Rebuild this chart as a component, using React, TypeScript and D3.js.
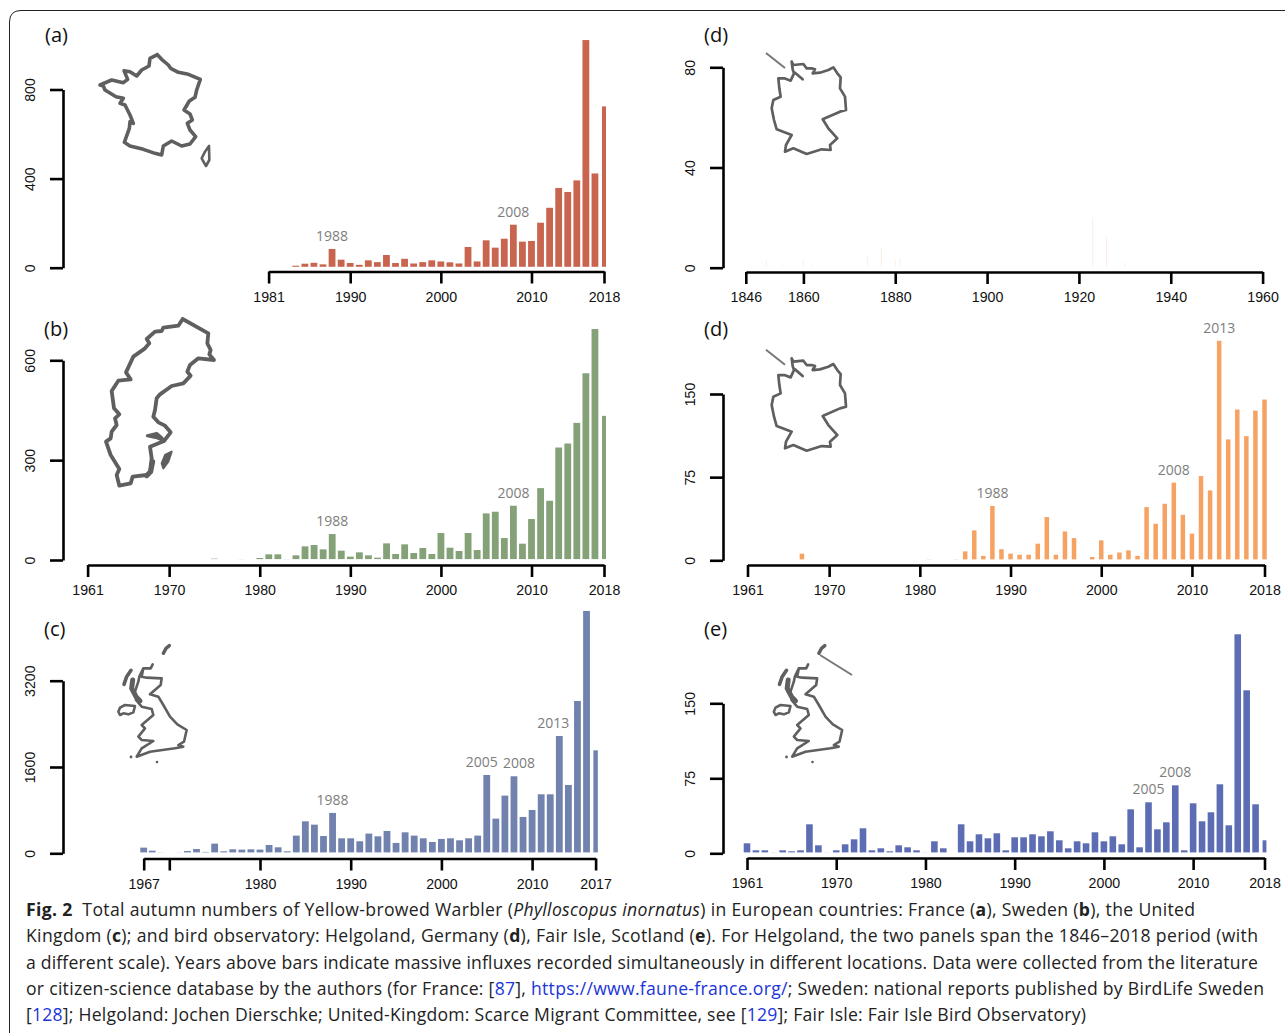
import * as d3 from "d3";
import { useEffect, useRef } from "react";

// values, one array per panel
const franceYears = d3.range(1984, 2019);
const franceCounts = [9, 18, 22, 15, 84, 36, 21, 13, 33, 25, 57, 21, 40, 19, 25, 33, 28, 24, 19, 93, 28, 123, 90, 130, 193, 117, 120, 202, 269, 358, 340, 392, 1022, 423, 724];
const franceTicks = [1981, 1990, 2000, 2010, 2018];

const swedenYears = [1975, 1978, ...d3.range(1980, 2019)];
const swedenCounts = [4, 3, 6, 17, 17, 3, 14, 41, 45, 32, 78, 28, 10, 23, 14, 7, 50, 18, 47, 21, 36, 18, 81, 37, 27, 81, 30, 140, 145, 66, 163, 49, 123, 216, 178, 338, 350, 412, 561, 694, 433];
const swedenTicks = [1961, 1970, 1980, 1990, 2000, 2010, 2018];

const ukYears = [1967, 1968, 1969, ...d3.range(1971, 2018)];
const ukCounts = [105, 49, 19, 19, 43, 80, 25, 179, 37, 74, 68, 74, 68, 154, 111, 37, 328, 593, 531, 321, 748, 278, 278, 223, 365, 315, 414, 192, 389, 328, 278, 210, 266, 278, 241, 278, 328, 1452, 643, 1069, 1428, 674, 803, 1094, 1094, 2175, 1267, 2824, 4493, 1909];
const ukTicks = [1967, 1970, 1980, 1990, 2000, 2010, 2017];

const helgolandOldYears = [1851, 1855, 1860, 1862, 1868, 1871, 1874, 1877, 1880, 1881, 1886, 1923, 1926, 1930];
const helgolandOldCounts = [3, 1, 3, 1, 1, 1, 5, 8, 3, 4, 1, 20, 12, 2];
const helgolandOldTicks = [1846, 1860, 1880, 1900, 1920, 1940, 1960];

const helgolandYears = [1967, 1981, 1984, 1985, 1986, 1987, 1988, 1989, 1990, 1991, 1992, 1993, 1994, 1995, 1996, 1997, 1999, ...d3.range(2000, 2019)];
const helgolandCounts = [6, 1, 1, 8, 27, 4, 49, 10, 6, 5, 5, 15, 39, 5, 26, 20, 3, 18, 5, 7, 9, 4, 48, 33, 51, 70, 41, 24, 76, 63, 198, 109, 136, 112, 135, 145];
const helgolandTicks = [1961, 1970, 1980, 1990, 2000, 2010, 2018];

// the first bar of the Fair Isle panel sits one slot left of 1961 on the axis
const fairIsleYears = [...d3.range(1960, 1983), ...d3.range(1984, 2019)];
const fairIsleCounts = [10, 3, 3, 1, 3, 2, 3, 29, 8, 1, 3, 9, 14, 25, 3, 5, 2, 8, 6, 3, 1, 12, 5, 29, 12, 19, 15, 20, 3, 16, 16, 19, 17, 22, 13, 5, 12, 10, 21, 12, 17, 9, 44, 6, 51, 24, 31, 68, 3, 50, 32, 41, 69, 28, 219, 163, 49, 13];
const fairIsleTicks = [1960, 1970, 1980, 1990, 2000, 2010, 2018];

// hand traced outlines, in pixels at 3x zoom
const franceOutline = [[232, 44], [245, 58], [265, 75], [272, 85], [295, 97], [325, 103], [361, 118], [350, 150], [345, 172], [328, 183], [312, 210], [330, 222], [337, 240], [322, 250], [330, 270], [347, 290], [330, 312], [305, 318], [275, 303], [250, 318], [245, 345], [225, 340], [190, 328], [150, 318], [133, 307], [148, 265], [150, 245], [160, 250], [150, 225], [135, 195], [120, 190], [130, 175], [108, 170], [75, 150], [70, 138], [60, 135], [95, 120], [130, 128], [143, 118], [132, 92], [150, 95], [170, 108], [185, 90], [207, 78], [210, 55], [232, 44]];
const corsicaOutline = [[387, 318], [388, 360], [378, 378], [365, 355], [375, 335], [387, 318]];
const swedenOutline = [[278, 12], [355, 55], [352, 85], [362, 105], [358, 118], [372, 135], [325, 130], [300, 150], [292, 170], [302, 182], [280, 205], [245, 213], [210, 238], [200, 250], [195, 285], [190, 305], [205, 322], [225, 332], [242, 352], [222, 378], [180, 395], [185, 430], [180, 470], [170, 480], [128, 485], [122, 505], [88, 512], [80, 480], [88, 462], [62, 420], [48, 380], [62, 370], [65, 350], [80, 330], [75, 310], [88, 298], [72, 280], [65, 228], [85, 197], [122, 193], [108, 172], [130, 125], [165, 100], [178, 85], [170, 72], [195, 50], [215, 48], [220, 38], [265, 32], [278, 12]];
const swedenLake = [[172, 362], [200, 355], [215, 368], [222, 378], [200, 368], [172, 362]];
const swedenCoast = [[188, 440], [182, 470], [170, 482]];
const gotland = [[245, 410], [235, 440], [220, 460], [215, 445], [225, 420], [245, 410]];
const germanyOutline = [[125, 65], [130, 75], [160, 72], [170, 85], [185, 85], [195, 88], [188, 100], [210, 98], [235, 90], [250, 82], [262, 100], [272, 112], [270, 145], [285, 170], [288, 210], [270, 215], [218, 238], [235, 265], [262, 295], [240, 315], [242, 330], [215, 328], [170, 342], [130, 325], [105, 335], [108, 315], [125, 285], [80, 268], [72, 240], [65, 205], [70, 180], [92, 170], [88, 145], [85, 115], [103, 115], [122, 122], [132, 100], [128, 88], [125, 65]];
const elbe = [[135, 98], [158, 118]];
const britainOutline = [[158, 88], [152, 100], [130, 100], [125, 125], [140, 128], [185, 130], [182, 150], [150, 178], [175, 185], [190, 210], [210, 245], [232, 268], [260, 285], [252, 320], [235, 330], [250, 335], [225, 340], [150, 350], [110, 365], [125, 340], [160, 318], [125, 315], [115, 305], [135, 280], [125, 270], [160, 240], [155, 222], [125, 215], [108, 195], [105, 170], [115, 140], [118, 125], [130, 100]];
const irelandOutline = [[55, 230], [60, 218], [75, 210], [105, 213], [100, 232], [85, 238], [70, 235], [60, 240], [55, 230]];
const hebrides = [[72, 148], [80, 125], [93, 106]];
const westCoast = [[98, 135], [95, 160], [108, 185], [120, 198]];
const shetland = [[190, 55], [198, 40], [208, 32]];

const captionLines = [
  { end: 1195, parts: [["Fig. 2", "b"], ["  Total autumn numbers of Yellow-browed Warbler ("], ["Phylloscopus inornatus", "i"], [") in European countries: France ("], ["a", "b"], ["), Sweden ("], ["b", "b"], ["), the United"]] },
  { end: 1258, parts: [["Kingdom ("], ["c", "b"], ["); and bird observatory: Helgoland, Germany ("], ["d", "b"], ["), Fair Isle, Scotland ("], ["e", "b"], ["). For Helgoland, the two panels span the 1846–2018 period (with"]] },
  { end: 1258, parts: [["a different scale). Years above bars indicate massive influxes recorded simultaneously in different locations. Data were collected from the literature"]] },
  { end: 1264, parts: [["or citizen-science database by the authors (for France: ["], ["87", "l"], ["], "], ["https://www.faune-france.org/", "l"], ["; Sweden: national reports published by BirdLife Sweden"]] },
  { end: 1086, parts: [["["], ["128", "l"], ["]; Helgoland: Jochen Dierschke; United-Kingdom: Scarce Migrant Committee, see ["], ["129", "l"], ["]; Fair Isle: Fair Isle Bird Observatory)"]] },
];

const panels = [
  { name: "(a)", nameX: 45, nameY: 42, years: franceYears, counts: franceCounts, ticks: franceTicks, xDomain: [1981, 2018], xRange: [268.6, 604], axisX: 63, axisY: 271.5, yTicks: [0, 400, 800], yRange: [267.7, 89.5], color: "#c9654f", barW: 6.8, lastW: 4, notes: [[1988, 0], [2008, 0]] },
  { name: "(b)", nameX: 44, nameY: 336, years: swedenYears, counts: swedenCounts, ticks: swedenTicks, xDomain: [1961, 2018], xRange: [87.6, 604], axisX: 63, axisY: 565, yTicks: [0, 300, 600], yRange: [560, 360.3], color: "#84a178", barW: 6.8, lastW: 4, notes: [[1988, 0], [2008, 0]] },
  { name: "(c)", nameX: 44, nameY: 636, years: ukYears, counts: ukCounts, ticks: ukTicks, xDomain: [1967, 1970, 2017], xRange: [143.7, 169.3, 595.6], axisX: 63, axisY: 858.5, yTicks: [0, 1600, 3200], yRange: [853.3, 680.7], color: "#7282ae", barW: 6.8, lastW: 4.5, notes: [[1988, 0], [2005, -5], [2008, 5], [2013, -6]] },
  { name: "(d)", nameX: 704, nameY: 42, years: helgolandOldYears, counts: helgolandOldCounts, ticks: helgolandOldTicks, xDomain: [1846, 1860, 1960], xRange: [745.8, 803.4, 1262.6], axisX: 723, axisY: 272, yTicks: [0, 40, 80], yRange: [267.7, 67.3], color: "#fbeee6", barW: 1, lastW: 1, notes: [] },
  { name: "(d)", nameX: 704, nameY: 336, years: helgolandYears, counts: helgolandCounts, ticks: helgolandTicks, xDomain: [1961, 2018], xRange: [747.5, 1264.5], axisX: 723, axisY: 565, yTicks: [0, 75, 150], yRange: [560.3, 394], color: "#f5a262", barW: 4.5, lastW: 4.5, notes: [[1988, 0], [2008, 0], [2013, 0]] },
  { name: "(e)", nameX: 704, nameY: 636, years: fairIsleYears, counts: fairIsleCounts, ticks: fairIsleTicks, xDomain: [1960, 2018], xRange: [747, 1264.5], axisX: 723, axisY: 858, yTicks: [0, 75, 150], yRange: [853.3, 703.3], color: "#5d6db3", barW: 6.6, lastW: 3.8, notes: [[2005, 0], [2008, 0]], firstLabel: "1961" },
];

const MAP_GREY = "#5f5f5f";
const tickFont = "'Liberation Sans', Arial, sans-serif";
const humanFont = "'Open Sans', sans-serif";
const outline = d3.line().curve(d3.curveLinear);

const Panel = ({ panel }) => {
  const ref = useRef();

  useEffect(() => {
    const g = d3.select(ref.current);
    g.selectAll("*").remove();
    const x = d3.scaleLinear().domain(panel.xDomain).range(panel.xRange);
    const y = d3.scaleLinear().domain([panel.yTicks[0], panel.yTicks[2]]).range(panel.yRange);
    const base = y(0) - 0.9;
    const lastYear = panel.years[panel.years.length - 1];

    g.selectAll("rect.bar")
      .data(panel.years)
      .join("rect")
      .attr("class", "bar")
      .attr("x", (d) => x(d) - (d === lastYear ? panel.lastW : panel.barW) / 2)
      .attr("width", (d) => (d === lastYear ? panel.lastW : panel.barW))
      .attr("y", (d, i) => y(panel.counts[i]))
      .attr("height", (d, i) => Math.max(0, base - y(panel.counts[i])))
      .attr("fill", panel.color);

    const yAxis = d3.axisLeft(y).tickValues(panel.yTicks).tickSize(13).tickSizeOuter(0).tickFormat((d) => String(d));
    const yG = g.append("g").attr("transform", `translate(${panel.axisX},0)`).call(yAxis);
    const xAxis = d3
      .axisBottom(x)
      .tickValues(panel.ticks)
      .tickSize(12)
      .tickSizeOuter(0)
      .tickFormat((d, i) => (i === 0 && panel.firstLabel ? panel.firstLabel : d === 1970 && panel.ticks[0] === 1967 ? "" : String(d)));
    const xG = g.append("g").attr("transform", `translate(0,${panel.axisY})`).call(xAxis);

    [xG, yG].forEach((a) => {
      a.selectAll("path,line").attr("stroke", "#000").attr("stroke-width", 2.6);
      a.selectAll("text").attr("fill", "#111").style("font-family", tickFont).style("font-size", "14.2px");
    });
    xG.selectAll("text").attr("y", 20).attr("dy", "0.71em");
    yG.selectAll("text")
      .attr("x", 0)
      .attr("y", 0)
      .attr("dy", 0)
      .attr("text-anchor", "middle")
      .attr("transform", "translate(-28,0) rotate(-90)");

    g.selectAll("text.note")
      .data(panel.notes)
      .join("text")
      .attr("class", "note")
      .attr("x", (d) => x(d[0]) + d[1])
      .attr("y", (d) => y(panel.counts[panel.years.indexOf(d[0])]) - 8)
      .attr("text-anchor", "middle")
      .attr("fill", "#7d7d7d")
      .style("font-family", humanFont)
      .style("font-size", "14px")
      .text((d) => d[0]);

    g.append("text")
      .attr("x", panel.nameX)
      .attr("y", panel.nameY)
      .attr("fill", "#111")
      .style("font-family", humanFont)
      .style("font-size", "20px")
      .text(panel.name);
  }, [panel]);

  return <g ref={ref} />;
};

// scale is 1/3 because the outlines were traced on 3x crops
const MapShape = ({ points, dx, dy, width = 3.6, fill = "none" }) => (
  <path
    d={outline(points)}
    transform={`translate(${dx},${dy}) scale(${1 / 3})`}
    fill={fill}
    stroke={MAP_GREY}
    strokeWidth={width * 3}
    strokeLinejoin="round"
    strokeLinecap="round"
  />
);

const Germany = ({ dy }) => (
  <>
    <MapShape points={germanyOutline} dx={750} dy={dy} width={2.7} />
    <MapShape points={elbe} dx={750} dy={dy} width={2.7} />
    <line x1={766} y1={53 + dy - 40} x2={785} y2={68 + dy - 40} stroke="#777" strokeWidth={2} />
  </>
);

const Britain = ({ dx }) => (
  <>
    <MapShape points={britainOutline} dx={dx} dy={635} width={2.6} />
    <MapShape points={irelandOutline} dx={dx} dy={635} width={2.6} />
    <MapShape points={hebrides} dx={dx} dy={635} width={3.6} />
    <MapShape points={westCoast} dx={dx} dy={635} width={5} />
    <MapShape points={shetland} dx={dx} dy={635} width={3.4} />
    <circle cx={dx + 31} cy={757} r={1.4} fill={MAP_GREY} />
    <circle cx={dx + 57} cy={762} r={1.3} fill={MAP_GREY} />
  </>
);

const Caption = () => (
  <g style={{ fontFamily: humanFont, fontSize: "17.6px" }} fill="#222">
    {captionLines.map((line, i) => (
      <text key={i} x={26} y={915.8 + i * 26.4} textLength={line.end - 26} xmlSpace="preserve">
        {line.parts.map((p, j) => (
          <tspan
            key={j}
            fontWeight={p[1] === "b" ? 700 : 400}
            fontStyle={p[1] === "i" ? "italic" : "normal"}
            fill={p[1] === "l" ? "#1a35d8" : undefined}
          >
            {p[0]}
          </tspan>
        ))}
      </text>
    ))}
  </g>
);

export default function App() {
  return (
    <svg width={1285} height={1033} style={{ position: "absolute", left: 0, top: 0, display: "block" }}>
      <rect width={1285} height={1033} fill="#fff" />
      <path d="M1285,10.5 H21 Q9.5,10.5 9.5,22 V1033" fill="none" stroke="#222" strokeWidth={1} />
      {panels.map((p, i) => (
        <Panel key={i} panel={p} />
      ))}
      <MapShape points={franceOutline} dx={80} dy={40} />
      <MapShape points={corsicaOutline} dx={80} dy={40} width={2.6} />
      <MapShape points={swedenOutline} dx={90} dy={315} width={3.8} />
      <MapShape points={swedenLake} dx={90} dy={315} width={3} fill={MAP_GREY} />
      <MapShape points={swedenCoast} dx={90} dy={315} width={5} />
      <MapShape points={gotland} dx={90} dy={315} width={2} fill={MAP_GREY} />
      <Germany dy={40} />
      <Germany dy={336.7} />
      <Britain dx={100} />
      <Britain dx={755.5} />
      <line x1={820} y1={655} x2={852} y2={675} stroke="#777" strokeWidth={2} />
      <Caption />
    </svg>
  );
}
